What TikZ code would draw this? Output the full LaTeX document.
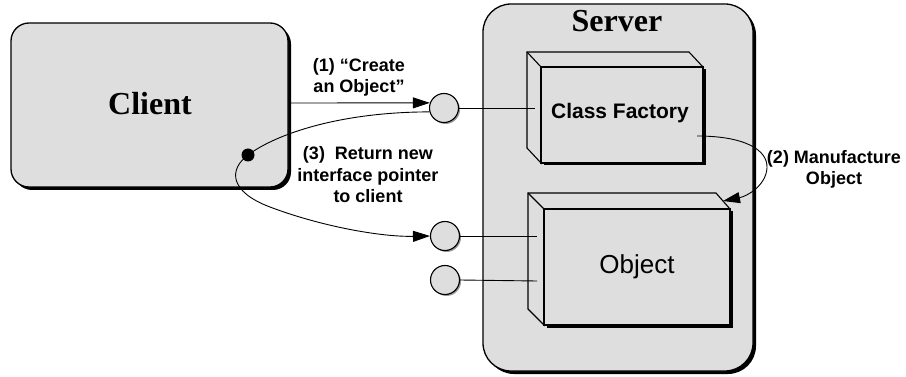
\documentclass[tikz,border=0pt]{standalone}
\usepackage{fontspec}
\setmainfont{Liberation Serif}
\setsansfont{Liberation Sans}
\usetikzlibrary{arrows.meta,shadows}
\definecolor{boxgray}{RGB}{222,222,222}
\begin{document}
\begin{tikzpicture}[x=1pt,y=-1pt,
  bigbox/.style={draw=black, line width=1.3pt, fill=boxgray,
    drop shadow={shadow xshift=3pt, shadow yshift=-3pt, fill=black, opacity=1}},
  side/.style={draw=black, line width=1.1pt, fill=boxgray, line join=miter},
  front/.style={draw=black, line width=1.1pt, fill=boxgray, inner sep=0pt,
    drop shadow={shadow xshift=2.5pt, shadow yshift=-2.5pt, fill=black, opacity=1}},
  iface/.style={circle, draw=black, line width=1.1pt, fill=boxgray, minimum size=29pt, inner sep=0pt,
    drop shadow={shadow xshift=1.5pt, shadow yshift=-1.5pt, fill=gray, opacity=0.8}},
  conn/.style={draw=black, line width=0.9pt},
  arr/.style={conn, -{Triangle[length=17pt,width=11pt]}},
  lbl/.style={font=\sffamily\bfseries\fontsize{18}{21.5}\selectfont, align=center, inner sep=0pt},
  title/.style={font=\bfseries\fontsize{32}{36}\selectfont, inner sep=0pt}
]
\useasboundingbox (0,0) rectangle (906,377);

% Client
\node[bigbox, rounded corners=18pt, minimum width=277pt, minimum height=164pt] (client) at (149.5,105) {};
\node[title] (clientlbl) at (150,104) {Client};

% Server
\node[bigbox, rounded corners=28pt, minimum width=270pt, minimum height=367pt] (server) at (618,187.5) {};
\node[title] (serverlbl) at (617,21) {Server};

% Class Factory 3D box
\path[side] (527,52) -- (689,52) -- (703,67) -- (541,67) -- (541,163) -- (527,148) -- cycle;
\draw[side, fill=none] (527,52) -- (541,67);
\node[front, minimum width=162pt, minimum height=96pt] (cf) at (622,115) {};
\node[font=\sffamily\bfseries\fontsize{21}{24}\selectfont, inner sep=0pt] (cflbl) at (620,113) {Class Factory};

% Object 3D box
\path[side] (528,193) -- (716,193) -- (730,209) -- (544,209) -- (544,325) -- (528,309) -- cycle;
\draw[side, fill=none] (528,193) -- (544,209);
\node[front, minimum width=186pt, minimum height=116pt] (obj) at (637,267) {};
\node[font=\sffamily\fontsize{26}{30}\selectfont, inner sep=0pt] (objlbl) at (637,267) {Object};

% interfaces
\node[iface] (i1) at (444,108) {};
\node[iface] (i2) at (445,236) {};
\node[iface] (i3) at (445,280) {};
\coordinate (cfport) at (535,108);
\coordinate (objport1) at (537,236);
\coordinate (objport2) at (537,281);
\draw[conn] (i1.east) -- (cfport);
\draw[conn] (i2.east) -- (objport1);
\draw[conn] (i3.east) -- (objport2);

% (1) Create an Object
\coordinate (a1s) at (291,103);
\draw[arr] (a1s) -- (i1.160);
\node[lbl] (l1) at (359,77.5) {(1) “Create\\an Object”};

% (3) return pointer
\node[circle, fill=black, minimum size=13pt, inner sep=0pt] (dot) at (248,155) {};
\draw[conn] (i1.195) .. controls (340,112) and (276,134) .. (dot.center);
\draw[arr] (dot.center) .. controls (228,170) and (230,192) .. (270,207)
  .. controls (320,226) and (380,237) .. (i2.west);
\node[lbl] (l3) at (368,175) {(3)\ \ Return new\\interface pointer\\to client};

% (2) Manufacture Object
\coordinate (m2s) at (697,136);
\coordinate (objcorner) at (723,201);
\draw[arr] (m2s) .. controls (745,136) and (768,150) .. (767,168)
  .. controls (766,185) and (748,196) .. (objcorner);
\node[lbl] (l2) at (834,169.5) {(2) Manufacture\\Object};
\end{tikzpicture}
\end{document}
